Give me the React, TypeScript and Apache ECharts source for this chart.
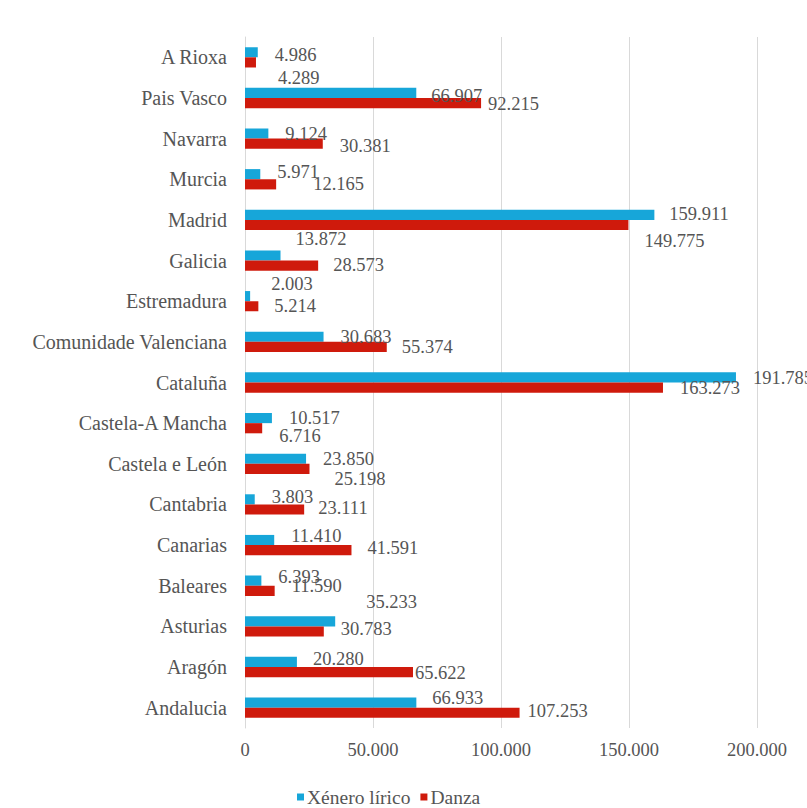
import React, { useEffect, useRef } from "react";
import * as echarts from "echarts";

const categories = [
  "A Rioxa",
  "Pais Vasco",
  "Navarra",
  "Murcia",
  "Madrid",
  "Galicia",
  "Estremadura",
  "Comunidade Valenciana",
  "Cataluña",
  "Castela-A Mancha",
  "Castela e León",
  "Cantabria",
  "Canarias",
  "Baleares",
  "Asturias",
  "Aragón",
  "Andalucia",
];

const xeneroLirico = [
  4986, 66907, 9124, 5971, 159911, 13872, 2003, 30683, 191785, 10517, 23850,
  3803, 11410, 6393, 35233, 20280, 66933,
];

const danza = [
  4289, 92215, 30381, 12165, 149775, 28573, 5214, 55374, 163273, 6716, 25198,
  23111, 41591, 11590, 30783, 65622, 107253,
];

const xTicks = [0, 50000, 100000, 150000, 200000];

// label nudges (layout only): [dx, dy]
const lyricNudge = [
  [2, 3], [0, 3], [2, 0], [2, -2], [0, -1], [0, -16], [6, -12], [2, 0], [2, 1],
  [2, 0], [2, 0], [2, -2], [2, -4], [2, -4], [16, -19], [1, -3], [1, -5],
];
const danzaNudge = [
  [7, 16], [-8, 1], [2, 2], [22, 0], [1, 16], [0, -1], [1, 0], [0, 0], [2, 0],
  [2, 8], [10, 10], [-1, -2], [1, -2], [2, -5], [2, -2], [-13, 1], [-7, -2],
];

const fmt = (v: number) =>
  String(Math.round(v)).replace(/\B(?=(\d{3})+(?!\d))/g, ".");

const FONT = "'Liberation Serif', 'Times New Roman', serif";
const TEXT = "#555555";
const CYAN = "#17a6d9";
const RED = "#cf1a0c";

export default function App() {
  const ref = useRef<HTMLDivElement>(null);
  useEffect(() => {
    document.body.style.margin = "0";
    if (!ref.current) return;
    const chart = echarts.init(ref.current, undefined, { renderer: "svg" });
    const mk = (vals: number[], nudge: number[][]) =>
      vals.map((v, i) => ({
        value: v,
        label: { offset: nudge[i] },
      }));
    const valueLabel = {
      show: true,
      position: "right",
      distance: 15,
      fontFamily: FONT,
      fontSize: 18.5,
      color: TEXT,
      formatter: (p: any) => fmt(p.value),
    };
    chart.setOption({
      animation: false,
      backgroundColor: "#ffffff",
      textStyle: { fontFamily: FONT },
      grid: { left: 245, right: 50, top: 37, bottom: 80, containLabel: false },
      legend: {
        left: 292,
        top: 782,
        itemWidth: 7,
        itemHeight: 7,
        itemGap: 10,
        icon: "rect",
        textStyle: { fontFamily: FONT, fontSize: 19.5, color: TEXT, padding: [0, 0, 0, -2] },
        data: ["Xénero lírico", "Danza"],
      },
      xAxis: {
        type: "value",
        min: 0,
        max: 200000,
        interval: 50000,
        axisLine: { show: false },
        axisTick: { show: false },
        splitLine: { show: true, lineStyle: { color: "#d9d9d9", width: 1 } },
        axisLabel: {
          fontFamily: FONT,
          fontSize: 18.5,
          color: TEXT,
          margin: 12,
          formatter: (v: number) => (xTicks.includes(v) ? fmt(v) : ""),
        },
      },
      yAxis: {
        type: "category",
        inverse: true,
        data: categories,
        axisLine: { show: true, lineStyle: { color: "#d9d9d9" } },
        axisTick: { show: false },
        axisLabel: {
          fontFamily: FONT,
          fontSize: 20,
          color: TEXT,
          margin: 18,
        },
      },
      series: [
        {
          name: "Xénero lírico",
          type: "bar",
          data: mk(xeneroLirico, lyricNudge),
          itemStyle: { color: CYAN },
          barGap: "0%",
          barCategoryGap: "50%",
          label: valueLabel,
        },
        {
          name: "Danza",
          type: "bar",
          data: mk(danza, danzaNudge),
          itemStyle: { color: RED },
          barGap: "0%",
          barCategoryGap: "50%",
          label: valueLabel,
        },
      ],
    });
    return () => chart.dispose();
  }, []);
  return <div ref={ref} style={{ width: 807, height: 808 }} />;
}
